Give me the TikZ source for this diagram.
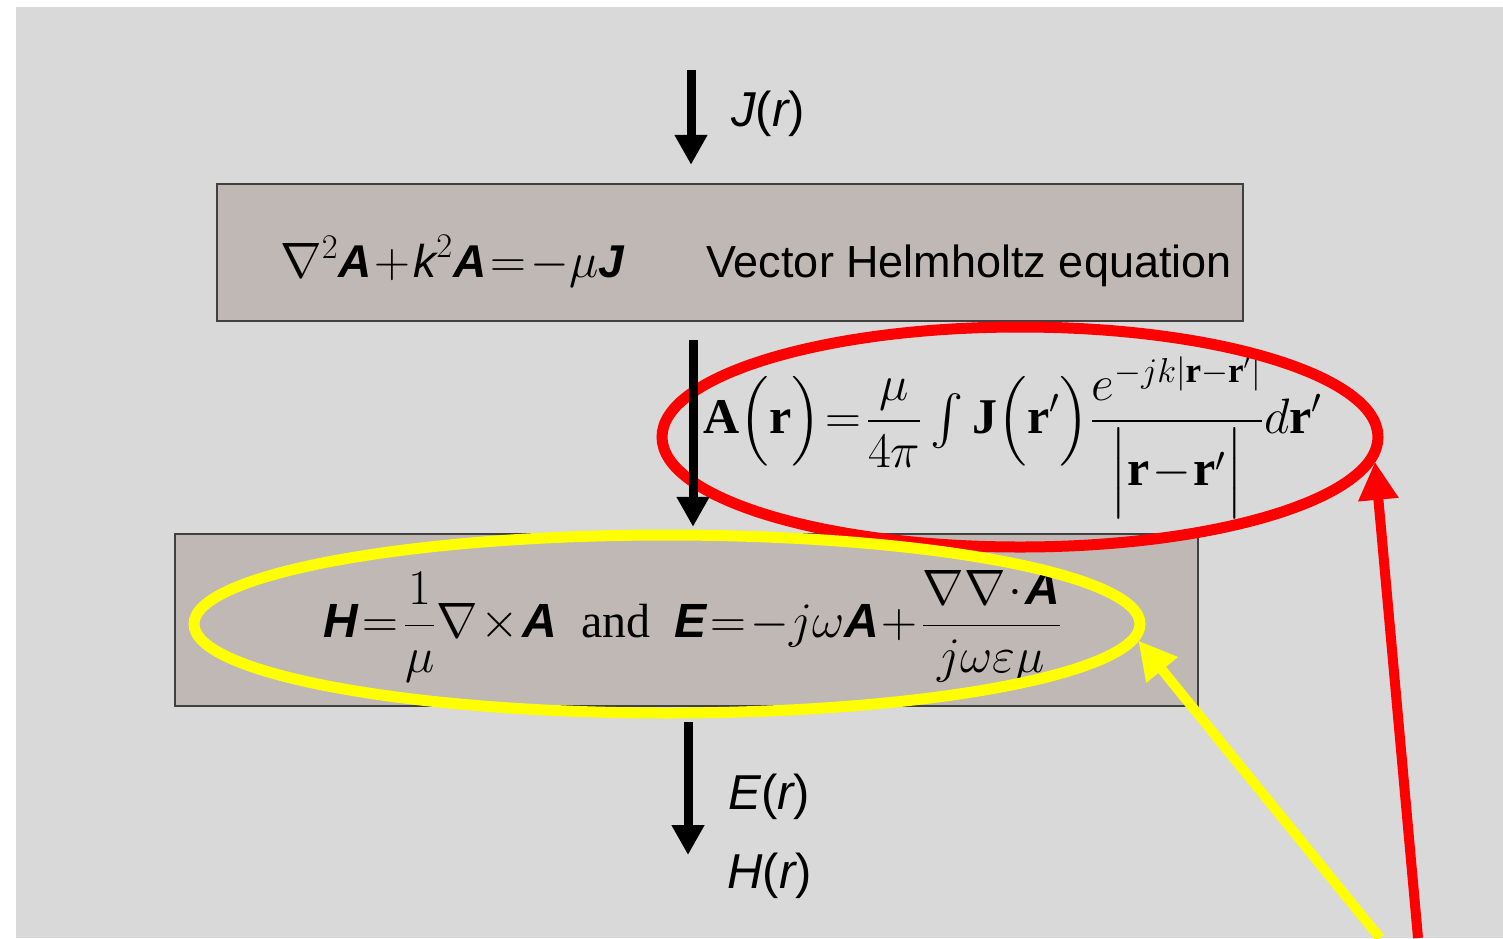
\documentclass[tikz,border=0pt]{standalone}
\usepackage{amsmath}
\usepackage{fontspec}
\setmainfont{Liberation Serif}
\setsansfont{Liberation Sans}
\usetikzlibrary{arrows.meta, shapes.geometric}
\definecolor{bggray}{HTML}{D9D9D9}
\definecolor{boxgray}{HTML}{BFB8B4}
\definecolor{hlred}{HTML}{FF0000}
\definecolor{hlyel}{HTML}{FFFF00}
\newcommand{\bsi}[1]{\text{\sffamily\bfseries\itshape #1}}
\newcommand{\si}[1]{\text{\sffamily\itshape #1}}
\tikzset{
  hblk/.style={draw=black!75, fill=boxgray, line width=1.2pt, inner sep=0pt},
  heq/.style={inner sep=0pt, font=\fontsize{23}{27}\selectfont,
              execute at begin node={\thickmuskip=1.5mu\medmuskip=1mu}},
  hlbl/.style={inner sep=0pt, font=\sffamily\itshape\fontsize{24.5}{28}\selectfont},
  harr/.style={-{Triangle[length=15pt, width=15.5pt]}, line width=4.5pt},
  ring/.style={ellipse, line width=5.5pt, inner sep=0pt},
  rarr/.style={-{Triangle[length=19pt, width=19pt]}, line width=5pt},
}
\begin{document}
\begin{tikzpicture}[x=0.5pt, y=-0.5pt]
  \useasboundingbox (0,0) rectangle (1503,938);
  \fill[white] (0,0) rectangle (1503,938);
  \fill[bggray] (16,7) rectangle (1503,938);
  % boxes
  \node[hblk, minimum width=513pt, minimum height=68.5pt](helm) at (730,252.5){};
  \node[hblk, minimum width=511.5pt, minimum height=86pt](fld) at (686.5,620){};
  \node[heq, anchor=base west](helmeq) at (280,277)
    {\sffamily$\nabla^{2}\bsi{A}+\si{k}^{2}\bsi{A}=-\mu\bsi{J}$};
  \node[heq, anchor=base west, font=\sffamily\fontsize{22.5}{27}\selectfont](helmtxt) at (706,277)
    {Vector Helmholtz equation};
  \node[heq, font=\fontsize{24}{28}\selectfont](fldeq) at (693,626)
    {$\bsi{H}=\dfrac{1}{\mu}\nabla\times\bsi{A}$\enspace and\enspace
     $\bsi{E}=-j\omega\bsi{A}+\dfrac{\nabla\nabla\cdot\bsi{A}}{j\omega\varepsilon\mu}$};
  \node[heq, font=\fontsize{25}{30}\selectfont](aeq) at (1013,437)
    {$\displaystyle\mathbf{A}\Bigl(\mathbf{r}\Bigr)=\frac{\mu}{4\pi}\mathop{\textstyle\int}\mathbf{J}\Bigl(\mathbf{r}'\Bigr)
     \frac{e^{-jk|\mathbf{r}-\mathbf{r}'|}}{\Bigl|\mathbf{r}-\mathbf{r}'\Bigr|}d\mathbf{r}'$};
  % labels
  \node[hlbl, anchor=west](jlbl) at (731,114){J\upshape(\itshape r\upshape)};
  \node[hlbl, anchor=west](elbl) at (728,797){E\upshape(\itshape r\upshape)};
  \node[hlbl, anchor=west](hlbl) at (727,876){H\upshape(\itshape r\upshape)};
  % highlights
  \node[ring, draw=hlred, minimum width=358pt, minimum height=110pt](redring) at (1020,437){};
  \node[ring, draw=hlyel, minimum width=473pt, minimum height=89pt](yelring) at (667,624){};
  % flow
  \coordinate(jin) at (691,70);
  \coordinate(midx) at (693,0);
  \coordinate(eout) at (688,855);
  \draw[harr, shorten >=9pt] (jin) -- (jin |- helm.north);
  \draw[harr, shorten <=9pt, shorten >=3pt] (midx |- helm.south) -- (midx |- fld.north);
  \draw[harr, shorten <=7.5pt] (eout |- fld.south) -- (eout);
  % pointers
  \coordinate(redtail) at (1418,938);
  \coordinate(yeltail) at (1380,938);
  \draw[rarr, hlred] (redtail) -- (redring.-4);
  \draw[rarr, hlyel] (yeltail) -- (yelring.-2);
\end{tikzpicture}
\end{document}
